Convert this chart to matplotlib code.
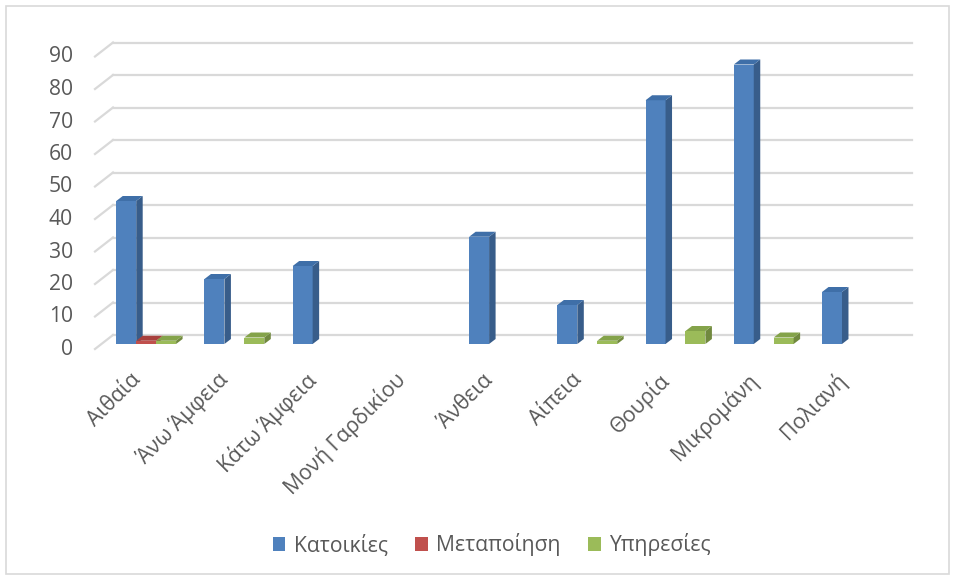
import matplotlib
matplotlib.use("Agg")
import matplotlib.pyplot as plt
from matplotlib.patches import Polygon, Rectangle, Patch
from matplotlib.transforms import ScaledTranslation, blended_transform_factory

plt.rcParams['font.family'] = ['Open Sans', 'DejaVu Sans']

categories = ["Αιθαία", "Άνω Άμφεια", "Κάτω Άμφεια", "Μονή Γαρδικίου", "Άνθεια",
              "Αίπεια", "Θουρία", "Μικρομάνη", "Πολιανή"]
series_names = ["Κατοικίες", "Μεταποίηση", "Υπηρεσίες"]
katoikies = [44, 20, 24, 0, 33, 12, 75, 86, 16]
metapoiisi = [1, 0, 0, 0, 0, 0, 0, 0, 0]
ypiresies = [1, 2, 0, 0, 0, 1, 4, 2, 0]
yticks = [0, 10, 20, 30, 40, 50, 60, 70, 80, 90]

front_colors = ["#4F81BD", "#C0504D", "#9BBB59"]
side_colors = ["#385D8A", "#8C3836", "#71893F"]
top_colors = ["#3F6FA8", "#A8403D", "#84A34A"]
text_color = "#595959"
grid_color = "#D9D9D9"
FS = 15.2

W, H = 955, 579
fig = plt.figure(figsize=(W / 100, H / 100), dpi=100)
left_px, right_px = 98, 892
zero_px, top_px = 344, 344 - 90 * 3.25
ax = fig.add_axes([left_px / W, (H - zero_px) / H, (right_px - left_px) / W, (zero_px - top_px) / H])
ax.set_xlim(-0.5, len(categories) - 0.5)
ax.set_ylim(0, 90)
ax.axis('off')

def off(dx_px, dy_px):
    return ScaledTranslation(dx_px / 100, dy_px / 100, fig.dpi_scale_trans)

bt = blended_transform_factory(ax.transAxes, ax.transData)
inv = fig.transFigure.inverted()
for v in yticks:
    ax.plot([0, 1.0 + 5 / (right_px - left_px)], [v, v], color=grid_color, lw=1.6,
            transform=bt + off(15, 9), clip_on=False, zorder=0.5)
    x0 = ax.transAxes.transform((0, 0))[0]
    d0 = ax.transData.transform((0, v))[1]
    p0 = inv.transform((x0 - 3, d0 - 5))
    p1 = inv.transform((x0 + 15, d0 + 9))
    fig.lines.append(plt.Line2D([p0[0], p1[0]], [p0[1], p1[1]], transform=fig.transFigure,
                                color=grid_color, lw=1.6, zorder=0.5))
    ax.text(-0.5, v, str(v), transform=ax.transData + off(-25, -5.5), ha='right', va='center',
            fontsize=FS, color=text_color, clip_on=False)

width = 0.226
offsets = [-0.18, -0.18 + width, -0.18 + 2 * width]
px_per_x = (right_px - left_px) / len(categories)
px_per_y = 3.25
ddx = 6.5 / px_per_x
ddy = 5 / px_per_y
all_series = [katoikies, metapoiisi, ypiresies]
for i in range(len(categories)):
    for s, vals in enumerate(all_series):
        h = vals[i]
        if h <= 0:
            continue
        c = i + offsets[s]
        xl, xr = c - width / 2, c + width / 2
        z = 2 + i * 3 + s
        ax.bar(c, h, width=width, color=front_colors[s], zorder=z, clip_on=False, linewidth=0)
        side = Polygon([(xr, 0), (xr, h), (xr + ddx, h + ddy), (xr + ddx, ddy)], closed=True,
                       facecolor=side_colors[s], edgecolor='none', zorder=z, clip_on=False)
        top = Polygon([(xl, h), (xr, h), (xr + ddx, h + ddy), (xl + ddx, h + ddy)], closed=True,
                      facecolor=top_colors[s], edgecolor='none', zorder=z, clip_on=False)
        ax.add_patch(side)
        ax.add_patch(top)

for i, name in enumerate(categories):
    ax.text(i, 0, name, transform=ax.transData + off(-5, -33), rotation=45,
            rotation_mode='anchor', ha='right', va='center', fontsize=FS,
            color=text_color, clip_on=False)

handles = [Patch(facecolor=front_colors[k], edgecolor='none') for k in range(3)]
fig.legend(handles, series_names, loc='center', bbox_to_anchor=(0.515, (H - 545) / H),
           ncol=3, frameon=False, fontsize=FS, labelcolor=text_color,
           handlelength=0.6, handleheight=0.6, handletextpad=0.4, columnspacing=1.3)

fig.patches.append(Rectangle((6 / W, 5 / H), (W - 12) / W, (H - 11) / H, transform=fig.transFigure,
                             fill=False, edgecolor=grid_color, lw=1.2))

fig.savefig("out.png", dpi=100, facecolor='white')
